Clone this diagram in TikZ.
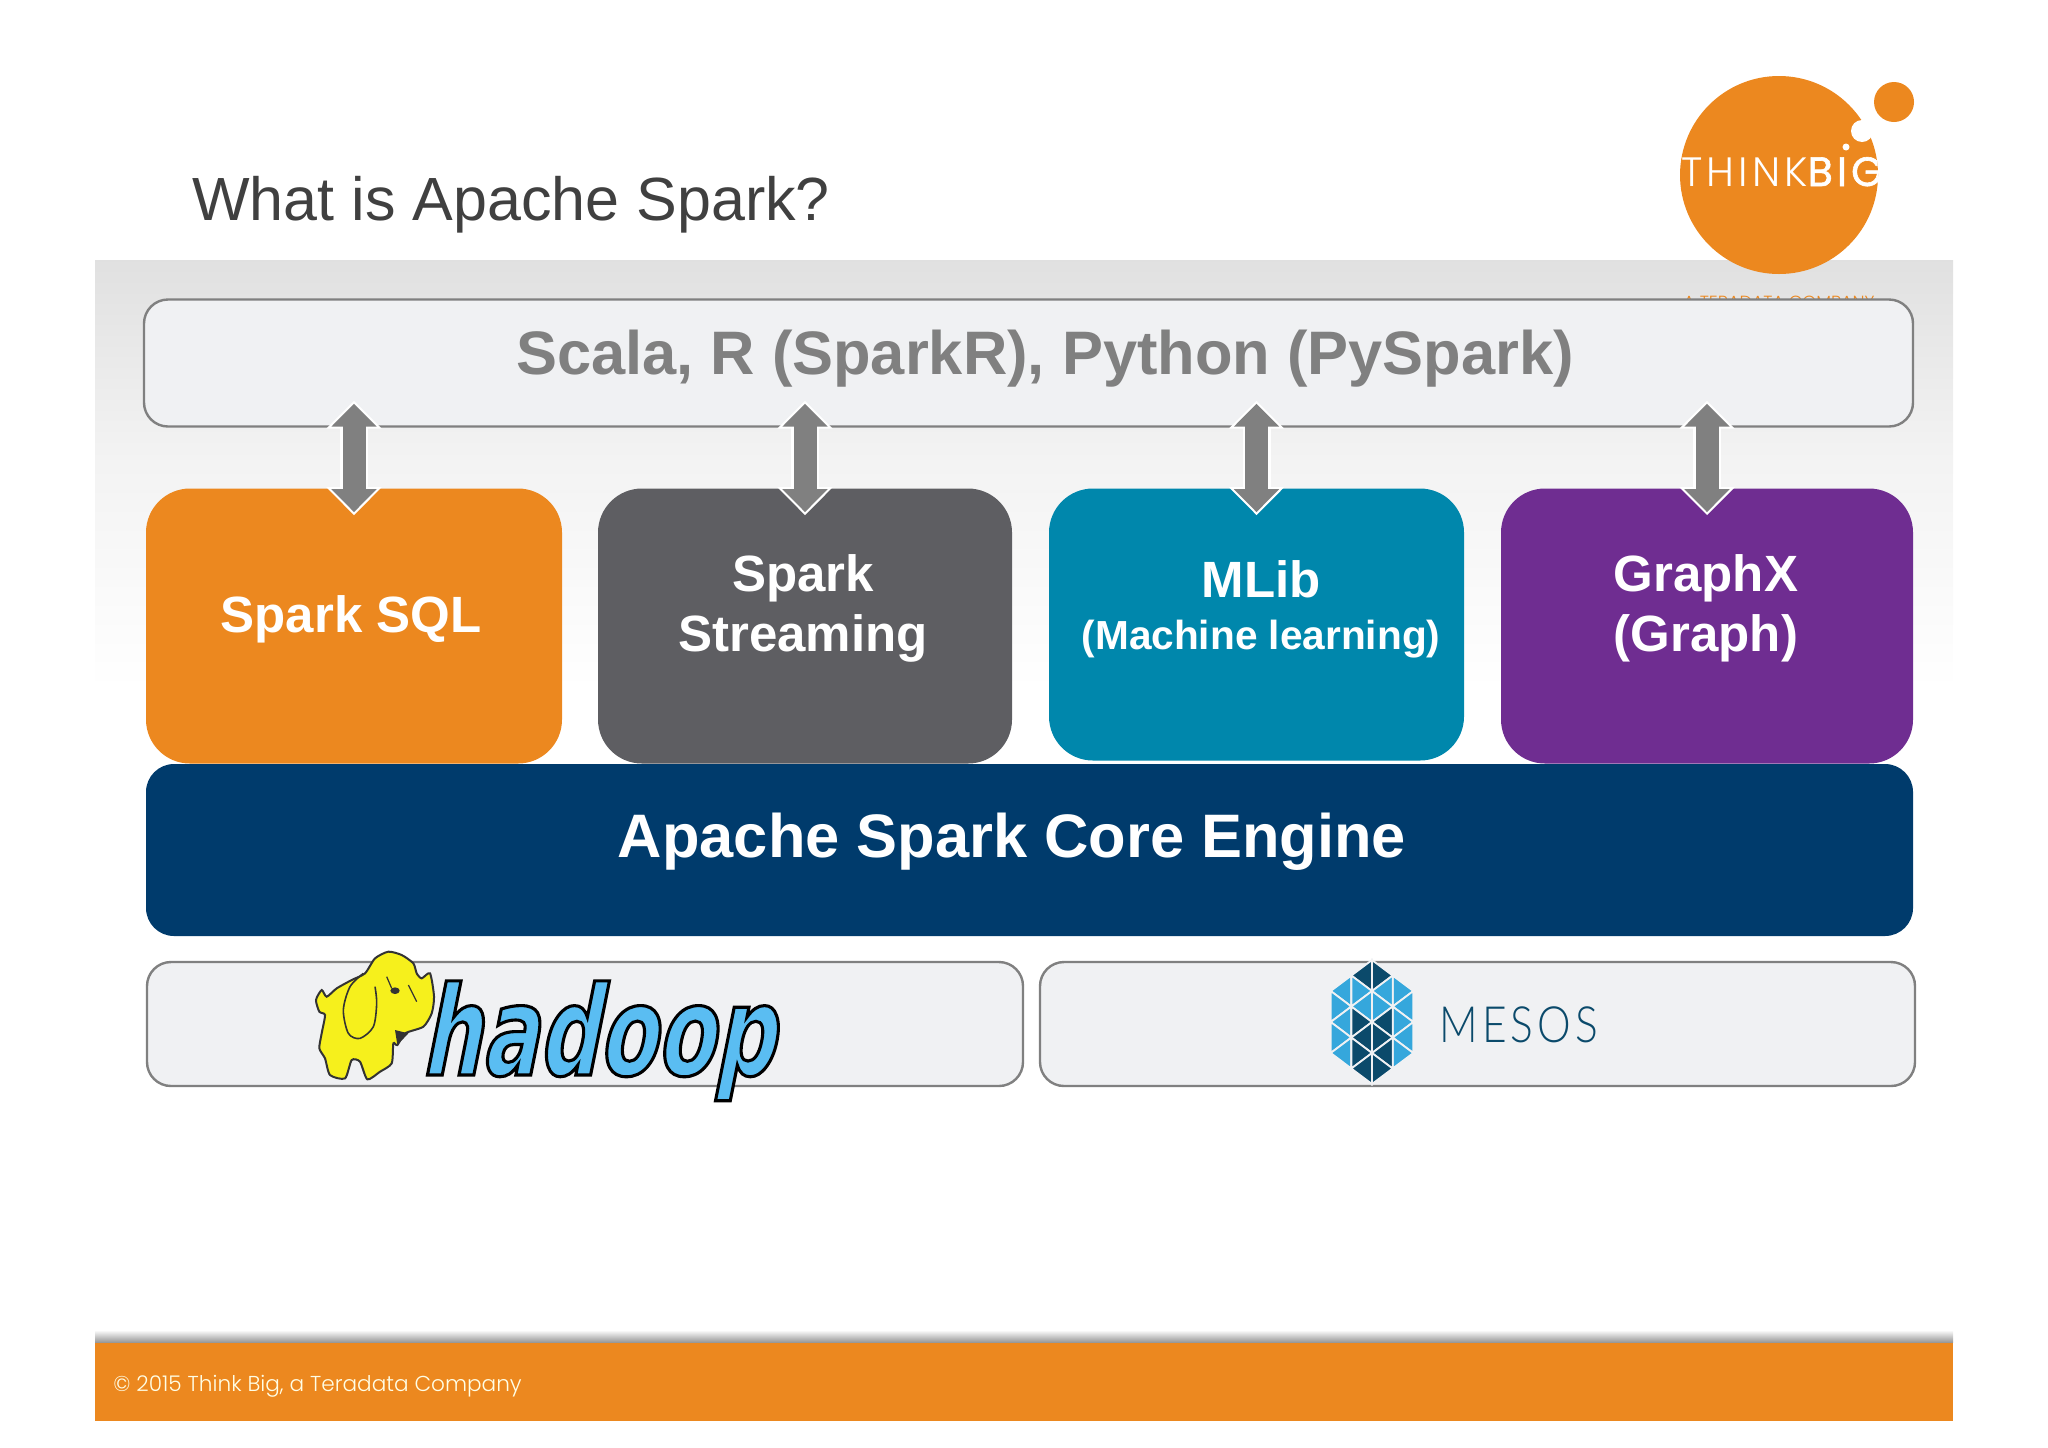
\documentclass[tikz,border=0pt]{standalone}
\usepackage{fontspec}
\usetikzlibrary{arrows.meta}
\setmainfont{Liberation Sans}
\newfontfamily\gothicfont{Poppins Light}
\newfontfamily\logofont[LetterSpace=10]{Poppins Light}
\newfontfamily\logobigfont[LetterSpace=10,FakeBold=1.5]{Poppins}
\newfontfamily\mesosfont[LetterSpace=8,FakeStretch=0.85]{Lato Light}
\newfontfamily\hadoopfont[FakeBold=2.5,FakeSlant=0.2,FakeStretch=0.68]{DejaVu Sans Bold}
\definecolor{tborange}{HTML}{EC881F}
\definecolor{slategrey}{HTML}{5E5E62}
\definecolor{tealblue}{HTML}{0087AC}
\definecolor{royalpurple}{HTML}{6F2D91}
\definecolor{corenavy}{HTML}{003B6C}
\definecolor{boxfill}{HTML}{F0F1F3}
\definecolor{edgegrey}{HTML}{808080}
\definecolor{mesoslight}{HTML}{35A7DC}
\definecolor{mesosdark}{HTML}{0B4A6B}
\definecolor{hadoopblue}{HTML}{5ABDF2}
\definecolor{elephant}{HTML}{F6F01C}
\tikzset{
  outlinebox/.style = {shape=rectangle, rounded corners=12pt, draw=edgegrey,
    line width=1.2pt, fill=boxfill, inner sep=0pt},
  appbox/.style = {shape=rectangle, rounded corners=22pt, inner sep=0pt,
    minimum height=137.5pt},
  apptext/.style = {text=white, align=center, inner sep=0pt,
    font=\bfseries\fontsize{25.5}{30}\selectfont},
  bigtext/.style = {inner sep=0pt, font=\bfseries\fontsize{30.7}{36}\selectfont},
  updown/.style = {draw=edgegrey, line width=11.5pt, shorten <=-12pt, shorten >=-12pt,
    {Triangle[width=22pt,length=11.5pt]}-{Triangle[width=22pt,length=11.5pt]},
    preaction={draw=white, line width=14pt, shorten <=-13.5pt, shorten >=-13.5pt,
      {Triangle[width=27pt,length=14pt]}-{Triangle[width=27pt,length=14pt]}}},
}
\begin{document}
\begin{tikzpicture}[x=0.5pt, y=-0.5pt]
  \useasboundingbox (0,0) rectangle (2048,1447);
  % slide background
  \shade[top color=black!12, bottom color=black!5] (95,260) rectangle (1953,450);
  \shade[top color=black!5, bottom color=white] (95,450) rectangle (1953,690);
  \node[anchor=west, inner sep=0pt, text=black!75, font=\fontsize{30.5}{36}\selectfont]
    (title) at (192,205) {What is Apache Spark?};
  \shade[top color=white, bottom color=black!40] (95,1330) rectangle (1953,1342);
  \node[shape=rectangle, fill=tborange, inner sep=0pt, minimum width=929pt, minimum height=39pt]
    (footer) at (1024,1381.5) {};
  \node[anchor=base west, inner sep=0pt, text=white!90!yellow, font=\gothicfont\fontsize{10.8}{12}\selectfont]
    (copyright) at (113,1391) {© 2015 Think Big, a Teradata Company};

  % logo
  \node[shape=circle, fill=tborange, inner sep=0pt, minimum size=99pt] (logo) at (1779,175) {};
  \node[shape=circle, fill=tborange, inner sep=0pt, minimum size=20pt] (logodot) at (1894,102) {};
  \node[shape=circle, fill=white, inner sep=0pt, minimum size=11pt] (logogap) at (1862,131) {};
  \node[shape=circle, fill=white, inner sep=0pt, minimum size=3.5pt] (logoidot) at (1846,147) {};
  \begin{scope}
    \clip (1779,175) circle [radius=99];
    \node[anchor=base west, inner sep=0pt, text=white, font=\fontsize{20.5}{24}\selectfont]
      (thinkbig) at (1681,186) {{\logofont THINK}{\logobigfont BIG}};
  \end{scope}
  \node[inner sep=0pt, text=tborange, font=\gothicfont\fontsize{8.8}{10}\selectfont]
    (teradata) at (1779,302) {A TERADATA COMPANY};

  % languages
  \node[outlinebox, minimum width=884.5pt, minimum height=63.5pt] (languages) at (1028.5,363) {};
  \node[bigtext, text=edgegrey] (languagestext) at (1045,359) {Scala, R (SparkR), Python (PySpark)};

  % libraries
  \node[appbox, fill=tborange, minimum width=208pt] (sql) at (354,626) {};
  \node[appbox, fill=slategrey, minimum width=207pt] (streaming) at (805,626) {};
  \node[appbox, fill=tealblue, minimum width=207.5pt, minimum height=136pt] (mlib) at (1256.5,624.5) {};
  \node[appbox, fill=royalpurple, minimum width=206pt] (graphx) at (1707,626) {};
  \node[apptext] (sqltext) at (351,619) {Spark SQL};
  \node[apptext] (streamingtext) at (803,608) {Spark\\Streaming};
  \node[apptext, font=\bfseries\fontsize{20.3}{26}\selectfont] (mlibtext) at (1261,609)
    {{\fontsize{25.5}{26}\selectfont MLib}\\(Machine learning)};
  \node[apptext] (graphxtext) at (1706,608) {GraphX\\(Graph)};

  \foreach \lib in {sql, streaming, mlib, graphx}
    \draw[updown] (\lib.north) -- (\lib.north |- languages.south);

  % core
  \node[shape=rectangle, rounded corners=14pt, fill=corenavy, inner sep=0pt,
    minimum width=883.5pt, minimum height=86pt] (core) at (1029.5,850) {};
  \node[bigtext, text=white] (coretext) at (1012,842) {Apache Spark Core Engine};

  % resource managers
  \node[outlinebox, minimum width=438pt, minimum height=62pt] (yarn) at (585,1024) {};
  \node[outlinebox, minimum width=437.5pt, minimum height=62pt] (mesos) at (1477.5,1024) {};

  % elephant
  \begin{scope}[shift={(280,930)}, x=0.1667pt, y=-0.1667pt]
    \filldraw[fill=elephant, draw=black!80, line width=1pt] plot[smooth cycle, tension=0.4] coordinates
      {(325,65) (285,85) (255,130) (215,150) (170,175) (140,200) (125,180) (108,210) (118,245)
       (135,255) (125,310) (118,355) (135,385) (150,435) (195,445) (215,390) (240,395) (262,448)
       (300,425) (335,400) (340,340) (352,345) (375,310) (430,290) (455,250) (462,200) (450,130)
       (425,145) (410,130) (400,100) (365,75)};
    \draw[black!80, line width=0.8pt] plot[smooth, tension=0.5] coordinates
      {(250,130) (210,170) (190,240) (205,310) (240,325) (280,290) (290,220) (285,170)};
    \fill[black!80] (345,182) ellipse [x radius=14, y radius=10];
    \draw[black!80, line width=0.6pt] (385,165) -- (410,215) (320,140) -- (335,175);
    \fill[black!80] (352,345) -- (345,300) -- (385,310) -- cycle;
  \end{scope}
  \node[anchor=base west, inner sep=0pt, text=hadoopblue, font=\hadoopfont\fontsize{62}{70}\selectfont]
    (hadoop) at (420,1075) {\special{pdf:code 0 0 0 RG}hadoop};

  % mesos mark
  \begin{scope}[shift={(1372,1022)}, x=10.33pt, y=-7.75pt]
    \foreach \s in {-1,1}
      \foreach \a/\b/\c/\d/\e/\f/\shade in {1/-3/2/-2/1/-1/mesoslight, 2/-2/1/-1/2/0/mesoslight,
          1/-1/2/0/1/1/mesoslight, 2/0/1/1/2/2/mesoslight, 1/1/2/2/1/3/mesoslight,
          0/-4/1/-3/0/-2/mesosdark, 1/-3/0/-2/1/-1/mesoslight, 0/-2/1/-1/0/0/mesoslight,
          1/-1/0/0/1/1/mesosdark, 0/0/1/1/0/2/mesosdark, 1/1/0/2/1/3/mesosdark, 0/2/1/3/0/4/mesosdark}
        \filldraw[fill=\shade, draw=boxfill, line width=0.9pt]
          ({\s*\a},\b) -- ({\s*\c},\d) -- ({\s*\e},\f) -- cycle;
  \end{scope}
  \node[anchor=base west, inner sep=0pt, text=mesosdark, font=\mesosfont\fontsize{25}{32}\selectfont]
    (mesostext) at (1439,1042) {MESOS};
\end{tikzpicture}
\end{document}
